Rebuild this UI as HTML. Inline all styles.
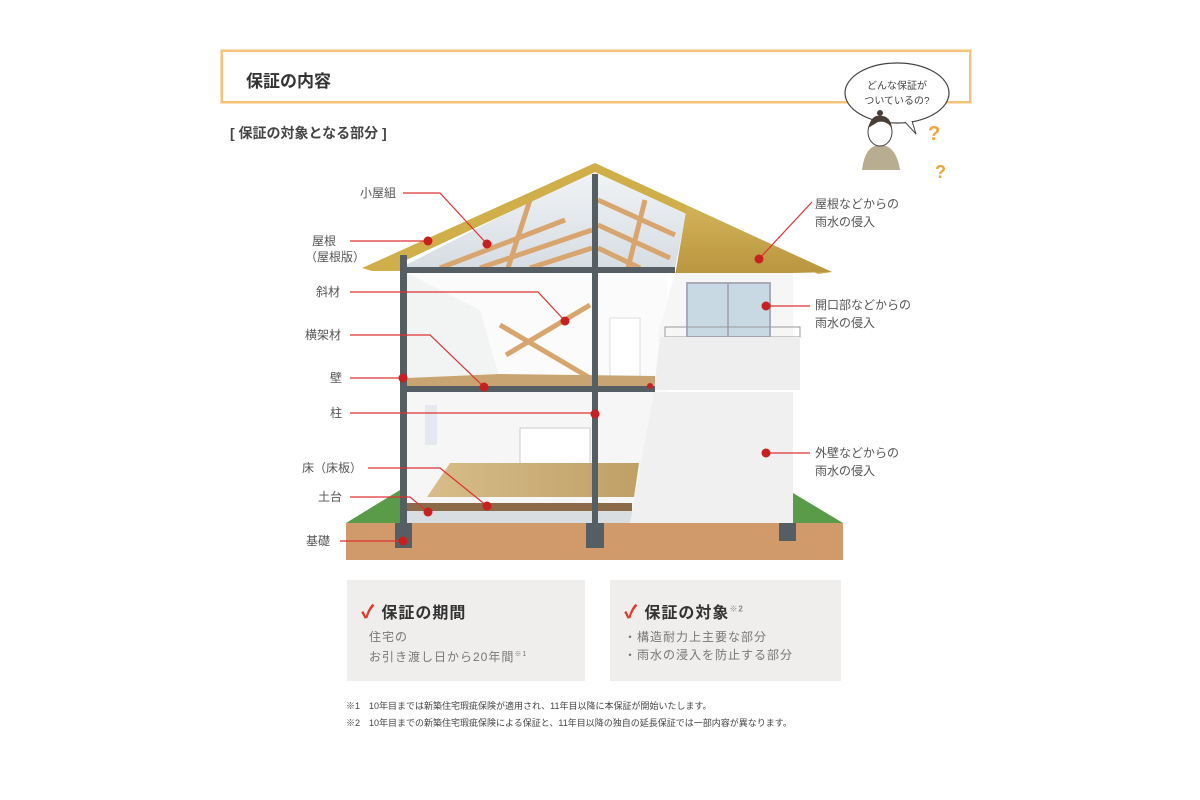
<!DOCTYPE html>
<html><head><meta charset="utf-8"><style>
body{margin:0;width:1200px;height:800px;background:#fff;font-family:"Liberation Sans","Noto Sans CJK JP",sans-serif;position:relative;overflow:hidden;color:#444}
.a{position:absolute;white-space:nowrap}
.card{position:absolute;top:580px;height:101px;width:238px;background:#efeeec}
.ct{position:absolute;left:14px;top:18px;font-size:16px;font-weight:bold;color:#333;letter-spacing:1px}
.ct b{color:#e03a2a;font-size:18px;margin-right:6px}
.cb{position:absolute;left:22px;top:48px;font-size:12px;line-height:18px;color:#777;letter-spacing:1px}
.fn{font-size:9px;color:#444}
</style></head><body>
<div class="a" style="left:221px;top:50px;width:746px;height:49px;border:2px solid #f5c27a;box-shadow:0 0 0 1px #fbe0b8"></div>
<div class="a" style="left:246px;top:67px;font-size:17px;font-weight:bold;color:#333">保証の内容</div>
<div class="a" style="left:230px;top:123px;font-size:14px;font-weight:bold;color:#444">[ 保証の対象となる部分 ]</div>

<svg class="a" style="left:0;top:0" width="1200" height="800">
<ellipse cx="897" cy="93" rx="52" ry="30" fill="#fff" stroke="#444" stroke-width="1.2"/>
<path d="M905 122 L916 134 L912 121" fill="#fff" stroke="#444"/>
<text x="897" y="89" font-size="10" text-anchor="middle" fill="#444">どんな保証が</text>
<text x="897" y="104" font-size="10" text-anchor="middle" fill="#444">ついているの?</text>
<path d="M862 170 Q865 145 880 145 Q896 145 900 170 Z" fill="#b8ad90"/>
<ellipse cx="880" cy="132" rx="12" ry="14" fill="#fff" stroke="#444"/>
<path d="M868 128 Q872 114 880 116 Q890 115 892 128 Q886 120 878 122 Z" fill="#4a3f38"/>
<circle cx="880" cy="113" r="3" fill="#4a3f38"/>
<text x="928" y="140" font-size="20" font-weight="bold" fill="#f2a33a">?</text>
<text x="935" y="178" font-size="18" font-weight="bold" fill="#f2a33a">?</text>
<polygon points="346,523 400,490 400,523" fill="#5a9b4a"/>
<polygon points="793,493 843,523 793,523" fill="#5a9b4a"/>
<rect x="346" y="523" width="497" height="37" fill="#d09a6a"/>
<defs><linearGradient id="g1" x1="0" y1="0" x2="0" y2="1"><stop offset="0" stop-color="#f2f4f6"/><stop offset="1" stop-color="#d6dde3"/></linearGradient>
<linearGradient id="g2" x1="0" y1="0" x2="1" y2="0"><stop offset="0" stop-color="#d8bd8a"/><stop offset="1" stop-color="#bfa066"/></linearGradient>
<linearGradient id="g3" x1="0" y1="0" x2="0" y2="1"><stop offset="0" stop-color="#d2b25a"/><stop offset="1" stop-color="#b8953e"/></linearGradient></defs>
<polygon points="595,168 400,268 675,268 687,210" fill="url(#g1)"/>
<rect x="407" y="273" width="260" height="250" fill="#fbfbfb"/>
<polygon points="407,273 480,310 500,380 407,380" fill="#f2f3f3"/>
<rect x="407" y="392" width="250" height="120" fill="#f6f6f6"/>
<rect x="610" y="318" width="30" height="60" fill="#fff" stroke="#ddd"/>
<rect x="520" y="428" width="70" height="36" fill="#fff" stroke="#ccc"/>
<rect x="425" y="405" width="12" height="40" fill="#e3e9ef"/>
<g stroke="#d9a56e" stroke-width="5">
<line x1="440" y1="268" x2="565" y2="220"/><line x1="480" y1="268" x2="592" y2="230"/><line x1="530" y1="268" x2="592" y2="248"/>
<line x1="598" y1="200" x2="675" y2="235"/><line x1="598" y1="225" x2="670" y2="258"/><line x1="598" y1="248" x2="640" y2="268"/>
<line x1="530" y1="200" x2="508" y2="268"/><line x1="645" y1="200" x2="628" y2="268"/>
<line x1="506" y1="355" x2="590" y2="305"/><line x1="500" y1="325" x2="590" y2="378"/>
</g>
<polygon points="595,163 362,268 372,271 400,271 400,263 595,172" fill="#d0ae4a"/>
<polygon points="595,163 832,272 818,274 595,172" fill="#d0ae4a"/>
<polygon points="687,206 832,272 675,276" fill="url(#g3)"/>
<polygon points="407,378 500,374 655,376 655,387 407,387" fill="#c8a472"/>
<polygon points="450,463 639,463 634,497 427,497" fill="url(#g2)"/>
<rect x="407" y="503" width="225" height="8" fill="#8a6a48"/>
<rect x="407" y="511" width="225" height="12" fill="#d7dde0"/>
<polygon points="675,273 793,273 793,337 657,337" fill="#f6f6f6"/>
<rect x="687" y="283" width="83" height="54" fill="#c9d9e4" stroke="#aab" stroke-width="2"/>
<line x1="728" y1="283" x2="728" y2="337" stroke="#aab" stroke-width="2"/>
<rect x="665" y="327" width="135" height="10" fill="none" stroke="#999"/>
<polygon points="660,337 800,337 800,390 654,390" fill="#eeeeee"/>
<polygon points="654,392 793,392 793,523 630,523" fill="#f0f0f0"/>
<g fill="#555e63">
<rect x="400" y="255" width="7" height="285"/>
<rect x="592" y="174" width="6" height="366"/>
<rect x="400" y="267" width="275" height="6"/>
<rect x="400" y="386" width="255" height="6"/>
<rect x="395" y="523" width="17" height="25"/><rect x="586" y="523" width="18" height="25"/><rect x="779" y="523" width="17" height="18"/>
</g>
<g stroke="#d33" stroke-width="1.2" fill="none">
<polyline points="403,193 440,193 487,244"/>
<polyline points="350,241 428,241"/>
<polyline points="350,292 538,292 565,321"/>
<polyline points="350,335 430,335 484,387"/>
<polyline points="350,378 403,378"/>
<polyline points="350,413 595,413"/>
<polyline points="368,468 440,468 487,506"/>
<polyline points="350,497 410,497 428,512"/>
<polyline points="340,541 403,541"/>
<polyline points="812,202 759,259"/>
<polyline points="810,306 766,306"/>
<polyline points="810,453 766,453"/>
</g>
<g fill="#c8201e">
<circle cx="487" cy="244" r="4.5"/><circle cx="428" cy="241" r="4.5"/><circle cx="565" cy="321" r="4.5"/><circle cx="484" cy="387" r="4.5"/>
<circle cx="403" cy="378" r="4.5"/><circle cx="595" cy="414" r="4.5"/><circle cx="487" cy="506" r="4.5"/><circle cx="428" cy="512" r="4.5"/>
<circle cx="403" cy="541" r="4.5"/><circle cx="650" cy="386" r="3"/><circle cx="759" cy="259" r="4.5"/><circle cx="766" cy="306" r="4.5"/><circle cx="766" cy="453" r="4.5"/>
</g>
<g font-size="12" fill="#555">
<text x="360" y="197">小屋組</text>
<text x="312" y="245">屋根</text><text x="305" y="261">（屋根版）</text>
<text x="316" y="296">斜材</text>
<text x="305" y="339">横架材</text>
<text x="330" y="382">壁</text>
<text x="330" y="417">柱</text>
<text x="302" y="472">床（床板）</text>
<text x="318" y="501">土台</text>
<text x="306" y="545">基礎</text>
<text x="815" y="208">屋根などからの</text><text x="815" y="226">雨水の侵入</text>
<text x="815" y="309">開口部などからの</text><text x="815" y="327">雨水の侵入</text>
<text x="815" y="457">外壁などからの</text><text x="815" y="475">雨水の侵入</text>
</g>
</svg>

<div class="card" style="left:347px"><div class="ct"><b>✓</b>保証の期間</div><div class="cb">住宅の<br>お引き渡し日から20年間<sup style="font-size:7px">※1</sup></div></div>
<div class="card" style="left:610px;width:231px"><div class="ct"><b>✓</b>保証の対象<sup style="font-size:8px;color:#888">※2</sup></div><div class="cb" style="left:14px">・構造耐力上主要な部分<br>・雨水の浸入を防止する部分</div></div>
<div class="a fn" style="left:346px;top:699px">※1　10年目までは新築住宅瑕疵保険が適用され、11年目以降に本保証が開始いたします。</div>
<div class="a fn" style="left:346px;top:716px">※2　10年目までの新築住宅瑕疵保険による保証と、11年目以降の独自の延長保証では一部内容が異なります。</div>
</body></html>
